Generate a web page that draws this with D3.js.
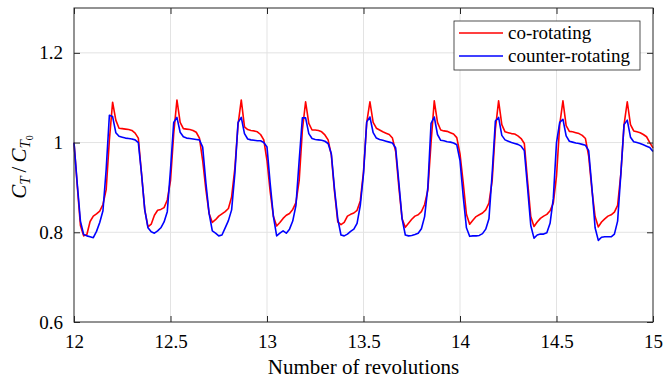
<!DOCTYPE html>
<html>
<head>
<meta charset="utf-8">
<script src="https://cdn.jsdelivr.net/npm/d3@7"></script>
<style>
  body { margin: 0; background: #fff; }
  text { font-family: "Liberation Serif", "Times New Roman", serif; fill: #000; }
</style>
</head>
<body>
<div id="plot"></div>
<script>
// sample grid: 12 -> 15 revolutions, 60 samples per revolution
var revStart = 12, revStep = 1 / 60, nSamples = 181;

var coRotating = [
  1.000, 0.905, 0.815, 0.792, 0.795, 0.824, 0.836, 0.841, 0.847, 0.862, 0.895, 1.006, 1.090, 1.050, 1.032, 1.031, 1.030, 1.029, 1.027, 1.021,
  1.010, 0.930, 0.850, 0.812, 0.818, 0.838, 0.849, 0.851, 0.855, 0.872, 0.915, 1.020, 1.095, 1.045, 1.031, 1.030, 1.029, 1.027, 1.023, 1.010,
  0.960, 0.895, 0.842, 0.822, 0.828, 0.836, 0.841, 0.846, 0.853, 0.879, 0.942, 1.040, 1.095, 1.035, 1.029, 1.027, 1.026, 1.024, 1.018, 1.006,
  0.960, 0.890, 0.835, 0.814, 0.822, 0.831, 0.838, 0.842, 0.851, 0.866, 0.915, 1.028, 1.091, 1.043, 1.028, 1.028, 1.027, 1.024, 1.017, 1.006,
  0.972, 0.890, 0.823, 0.817, 0.822, 0.836, 0.840, 0.843, 0.849, 0.870, 0.935, 1.045, 1.091, 1.045, 1.032, 1.028, 1.024, 1.021, 1.018, 1.010,
  0.980, 0.900, 0.830, 0.811, 0.820, 0.829, 0.836, 0.839, 0.846, 0.862, 0.894, 1.000, 1.093, 1.045, 1.028, 1.026, 1.025, 1.022, 1.019, 1.011,
  0.975, 0.910, 0.840, 0.818, 0.827, 0.835, 0.839, 0.843, 0.850, 0.865, 0.915, 1.030, 1.093, 1.040, 1.024, 1.022, 1.020, 1.019, 1.015, 1.009,
  0.998, 0.915, 0.835, 0.813, 0.823, 0.831, 0.836, 0.840, 0.848, 0.865, 0.925, 1.040, 1.093, 1.038, 1.025, 1.024, 1.022, 1.020, 1.016, 1.009,
  0.970, 0.895, 0.835, 0.812, 0.823, 0.830, 0.836, 0.839, 0.845, 0.860, 0.930, 1.040, 1.091, 1.040, 1.026, 1.024, 1.022, 1.018, 1.013, 1.000,
  0.988
];

var counterRotating = [
  1.000, 0.909, 0.825, 0.795, 0.792, 0.790, 0.788, 0.802, 0.822, 0.848, 0.940, 1.061, 1.058, 1.022, 1.014, 1.012, 1.010, 1.009, 1.008, 1.006,
  1.000, 0.930, 0.850, 0.810, 0.801, 0.798, 0.803, 0.810, 0.823, 0.846, 0.940, 1.045, 1.056, 1.023, 1.013, 1.010, 1.009, 1.008, 1.007, 1.006,
  0.990, 0.910, 0.842, 0.803, 0.798, 0.792, 0.794, 0.810, 0.826, 0.850, 0.930, 1.045, 1.056, 1.020, 1.008, 1.006, 1.005, 1.004, 1.004, 1.000,
  0.990, 0.908, 0.835, 0.792, 0.798, 0.803, 0.798, 0.807, 0.825, 0.860, 0.960, 1.055, 1.055, 1.020, 1.009, 1.007, 1.006, 1.005, 1.003, 0.998,
  0.975, 0.895, 0.830, 0.794, 0.792, 0.796, 0.802, 0.807, 0.820, 0.860, 0.930, 1.046, 1.057, 1.022, 1.010, 1.007, 1.005, 1.003, 1.001, 0.999,
  0.988, 0.910, 0.830, 0.794, 0.792, 0.793, 0.795, 0.798, 0.808, 0.835, 0.900, 1.043, 1.057, 1.018, 1.005, 1.004, 1.002, 1.001, 0.999, 0.995,
  0.960, 0.880, 0.810, 0.791, 0.792, 0.792, 0.793, 0.797, 0.807, 0.830, 0.931, 1.048, 1.056, 1.016, 1.006, 1.003, 1.000, 0.998, 0.996, 0.992,
  0.982, 0.900, 0.815, 0.787, 0.794, 0.796, 0.796, 0.799, 0.820, 0.875, 1.000, 1.045, 1.052, 1.015, 1.003, 1.001, 0.999, 0.998, 0.996, 0.994,
  0.982, 0.900, 0.810, 0.782, 0.789, 0.790, 0.790, 0.790, 0.796, 0.825, 0.930, 1.040, 1.050, 1.012, 1.002, 1.000, 0.998, 0.995, 0.992, 0.989,
  0.980
];

var xTicks = [12, 12.5, 13, 13.5, 14, 14.5, 15];
var xTickLabels = ["12", "12.5", "13", "13.5", "14", "14.5", "15"];
var yTicks = [0.6, 0.8, 1, 1.2];
var yTickLabels = ["0.6", "0.8", "1", "1.2"];
var seriesNames = ["co-rotating", "counter-rotating"];
var seriesColors = ["#ff0000", "#0000ff"];

var svg_w = 663, svg_h = 380;
var plotLeft = 74, plotRight = 653, plotTop = 8, plotBottom = 322;

var revs = d3.range(nSamples).map(function(i) { return revStart + i * revStep; });

var svg = d3.select("#plot")
      .append("svg")
      .attr("width", svg_w)
      .attr("height", svg_h);

var xScale = d3.scaleLinear().domain([12, 15]).range([plotLeft, plotRight]);
var yScale = d3.scaleLinear().domain([0.6, 1.3]).range([plotBottom, plotTop]);

// grid lines
svg.append("g").selectAll("line")
    .data(xTicks.slice(1, -1))
    .enter().append("line")
    .attr("x1", function(d) { return xScale(d); })
    .attr("x2", function(d) { return xScale(d); })
    .attr("y1", plotTop).attr("y2", plotBottom)
    .style("stroke", "#e3e3e3").attr("stroke-width", 1);

svg.append("g").selectAll("line")
    .data(yTicks.slice(1))
    .enter().append("line")
    .attr("x1", plotLeft).attr("x2", plotRight)
    .attr("y1", function(d) { return yScale(d); })
    .attr("y2", function(d) { return yScale(d); })
    .style("stroke", "#e3e3e3").attr("stroke-width", 1);

// data lines
var series = [coRotating, counterRotating];
var line = d3.line()
    .x(function(d, i) { return xScale(revs[i]); })
    .y(function(d) { return yScale(d); });

series.forEach(function(vals, k) {
  svg.append("path")
    .datum(vals)
    .attr("d", line)
    .attr("fill", "none")
    .attr("stroke", seriesColors[k])
    .attr("stroke-width", 1.6)
    .attr("stroke-linejoin", "round");
});

// axes, MATLAB-style box with inward ticks
var tickLen = 6;
var xAxisB = d3.axisBottom(xScale).tickValues(xTicks)
    .tickFormat(function(d, i) { return xTickLabels[i]; })
    .tickSizeInner(-tickLen).tickSizeOuter(0).tickPadding(13);
var xAxisT = d3.axisTop(xScale).tickValues(xTicks).tickFormat("")
    .tickSizeInner(-tickLen).tickSizeOuter(0);
var yAxisL = d3.axisLeft(yScale).tickValues(yTicks)
    .tickFormat(function(d, i) { return yTickLabels[i]; })
    .tickSizeInner(-tickLen).tickSizeOuter(0).tickPadding(11);
var yAxisR = d3.axisRight(yScale).tickValues(yTicks).tickFormat("")
    .tickSizeInner(-tickLen).tickSizeOuter(0);

var gxb = svg.append("g").attr("transform", "translate(0," + plotBottom + ")").call(xAxisB);
var gxt = svg.append("g").attr("transform", "translate(0," + plotTop + ")").call(xAxisT);
var gyl = svg.append("g").attr("transform", "translate(" + plotLeft + ",0)").call(yAxisL);
var gyr = svg.append("g").attr("transform", "translate(" + plotRight + ",0)").call(yAxisR);

[gxb, gxt, gyl, gyr].forEach(function(g) {
  g.attr("font-family", null).attr("font-size", null);
  g.selectAll("path.domain").remove();
  g.selectAll(".tick line").style("stroke", "#262626").attr("stroke-width", 1);
  g.selectAll(".tick text")
    .style("font-family", "'Liberation Serif', serif")
    .style("font-size", "19px")
    .style("fill", "#000");
});

svg.append("rect")
    .attr("x", plotLeft).attr("y", plotTop)
    .attr("width", plotRight - plotLeft).attr("height", plotBottom - plotTop)
    .attr("fill", "none")
    .style("stroke", "#262626").attr("stroke-width", 1);

// axis labels
svg.append("text")
    .attr("text-anchor", "middle")
    .attr("x", (plotLeft + plotRight) / 2)
    .attr("y", 374)
    .style("font-size", "21px")
    .text("Number of revolutions");

var ylab = svg.append("text")
    .attr("text-anchor", "middle")
    .attr("transform", "translate(26," + ((plotTop + plotBottom) / 2 + 2) + ") rotate(-90)")
    .style("font-size", "21px");
ylab.append("tspan").style("font-style", "italic").text("C");
ylab.append("tspan").style("font-style", "italic").style("font-size", "15px").attr("dy", 4).text("T");
ylab.append("tspan").attr("dy", -4).attr("dx", 4).text("/");
ylab.append("tspan").style("font-style", "italic").attr("dx", 4).text("C");
ylab.append("tspan").style("font-style", "italic").style("font-size", "15px").attr("dy", 4).text("T");
ylab.append("tspan").style("font-size", "10px").attr("dy", 3).text("0");

// legend
var legend = svg.append("g");
legend.append("rect")
    .attr("x", 454).attr("y", 21)
    .attr("width", 186).attr("height", 49)
    .attr("fill", "#fff")
    .style("stroke", "#262626").attr("stroke-width", 0.8);

seriesNames.forEach(function(name, k) {
  var ly = 33 + k * 23;
  legend.append("line")
    .attr("x1", 459).attr("x2", 503)
    .attr("y1", ly).attr("y2", ly)
    .attr("stroke", seriesColors[k])
    .attr("stroke-width", 1.6);
  legend.append("text")
    .attr("x", 508).attr("y", ly + 6)
    .style("font-size", "19px")
    .text(name);
});
</script>
</body>
</html>
